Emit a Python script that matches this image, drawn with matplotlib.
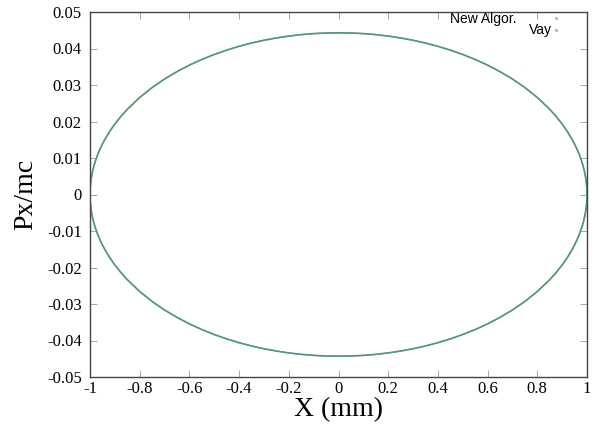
import matplotlib
matplotlib.use('Agg')
import matplotlib.pyplot as plt

# phase-space orbit: right half of the upper arc (x >= 0)
x_half = [0, 0.05, 0.1, 0.15, 0.2, 0.25, 0.3, 0.35, 0.4, 0.45, 0.5, 0.55, 0.6, 0.65, 0.7, 0.75, 0.8,
          0.85, 0.875, 0.9, 0.92, 0.94, 0.95, 0.96, 0.97, 0.98, 0.985, 0.99, 0.995, 0.9975, 0.999, 1]
p_half = [0.0443, 0.04424, 0.04408, 0.0438, 0.0434, 0.04289, 0.04226, 0.0415, 0.0406, 0.03956, 0.03836,
          0.037, 0.03544, 0.03366, 0.03164, 0.0293, 0.02658, 0.02334, 0.02145, 0.01931, 0.01736, 0.01511,
          0.01383, 0.0124, 0.01077, 0.00882, 0.00764, 0.00625, 0.00442, 0.00313, 0.00198, 0]

# whole orbit: the picture is symmetric in x and in Px
x_upper = [-v for v in x_half[::-1]] + x_half[1:]
p_upper = p_half[::-1] + p_half[1:]
xs = x_upper + x_upper[::-1][1:]
ps = p_upper + [-v for v in p_upper[::-1][1:]]

xticks = [-1, -0.8, -0.6, -0.4, -0.2, 0, 0.2, 0.4, 0.6, 0.8, 1]
xticklabels = ['-1', '-0.8', '-0.6', '-0.4', '-0.2', '0', '0.2', '0.4', '0.6', '0.8', '1']
yticks = [-0.05, -0.04, -0.03, -0.02, -0.01, 0, 0.01, 0.02, 0.03, 0.04, 0.05]
yticklabels = ['-0.05', '-0.04', '-0.03', '-0.02', '-0.01', '0', '0.01', '0.02', '0.03', '0.04', '0.05']

serif = 'Liberation Serif'

fig = plt.figure(figsize=(6.07, 4.29), dpi=100)
ax = fig.add_axes([90 / 607, 1 - 377 / 429, 497 / 607, 365 / 429])

ax.plot(xs, ps, color='#b48ad6', lw=1.1, solid_joinstyle='round')   # new algorithm (hidden underneath)
ax.plot(xs, ps, color='#46a067', lw=1.1, solid_joinstyle='round')   # Vay

ax.set_xlim(-1, 1)
ax.set_ylim(-0.05, 0.05)
ax.set_xticks(xticks)
ax.set_xticklabels(xticklabels, fontfamily=serif, fontsize=12)
ax.set_yticks(yticks)
ax.set_yticklabels(yticklabels, fontfamily=serif, fontsize=12)
ax.tick_params(direction='in', top=True, right=True, length=5, width=0.6, color='#999999', pad=6)
ax.tick_params(axis='x', pad=3)
for s in ax.spines.values():
    s.set_linewidth(1.0)
    s.set_color('#444444')

ax.set_xlabel('X (mm)', fontfamily=serif, fontsize=20, labelpad=0)
ax.set_ylabel('Px/mc', fontfamily=serif, fontsize=20, labelpad=6)

# gnuplot-like key with tiny dot samples
ax.text(0.859, 0.982, 'New Algor.', transform=ax.transAxes, ha='right', va='center',
        fontfamily='Liberation Sans', fontsize=10)
ax.text(0.930, 0.95, 'Vay', transform=ax.transAxes, ha='right', va='center',
        fontfamily='Liberation Sans', fontsize=10)
ax.plot([0.938], [0.984], 's', ms=1.0, color='#c9a0f0', transform=ax.transAxes)
ax.plot([0.938], [0.952], 's', ms=1.0, color='#7fc9a0', transform=ax.transAxes)

fig.savefig('out.png', dpi=100)
